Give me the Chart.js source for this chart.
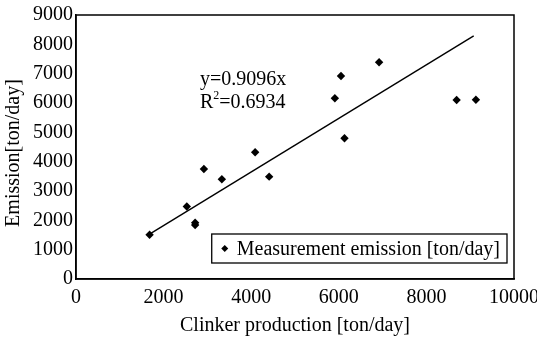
<!DOCTYPE html>
<html>
<head>
<meta charset="utf-8">
<script src="https://cdn.jsdelivr.net/npm/chart.js@4"></script>
<style>
html, body { margin: 0; padding: 0; background: #fff; }
#wrap { width: 537px; height: 341px; }
</style>
</head>
<body>
<div id="wrap"><canvas id="emission"></canvas></div>
<script>
var clinker  = [1680, 2530, 2720, 2720, 2920, 3330, 4090, 4410, 5910, 6050, 6130, 6920, 8690, 9130];
var emission = [1510, 2470, 1920, 1840, 3750, 3400, 4320, 3490, 6160, 6920, 4800, 7390, 6100, 6110];
// fitted line end points
var fitX = [1680, 9080];
var fitY = [1530, 8290];
var xTicks = [0, 2000, 4000, 6000, 8000, 10000];
var yTicks = [0, 1000, 2000, 3000, 4000, 5000, 6000, 7000, 8000, 9000];
var xTitle = 'Clinker production [ton/day]';
var yTitle = 'Emission[ton/day]';

var serif = "'Liberation Serif', 'DejaVu Serif', serif";

var pts = clinker.map(function (x, i) { return {x: x, y: emission[i]}; });
var fit = fitX.map(function (x, i) { return {x: x, y: fitY[i]}; });

var decor = {
  id: 'decor',
  afterDraw: function (chart) {
    var ctx = chart.ctx, a = chart.chartArea;
    var xs = chart.scales.x, ys = chart.scales.y;
    ctx.save();
    // frame
    ctx.strokeStyle = '#000';
    ctx.lineWidth = 1.5;
    ctx.strokeRect(a.left, a.top, a.right - a.left, a.bottom - a.top);

    // equation text
    ctx.fillStyle = '#000';
    ctx.font = '20px ' + serif;
    ctx.textAlign = 'left';
    ctx.textBaseline = 'middle';
    var ex = xs.getPixelForValue(2830);
    ctx.fillText('y=0.9096x', ex, ys.getPixelForValue(6800));
    ctx.fillText('R', ex, ys.getPixelForValue(6000));
    var rw = ctx.measureText('R').width;
    ctx.font = '12px ' + serif;
    ctx.fillText('2', ex + rw, ys.getPixelForValue(6230));
    var sw = ctx.measureText('2').width;
    ctx.font = '20px ' + serif;
    ctx.fillText('=0.6934', ex + rw + sw, ys.getPixelForValue(6000));

    // legend box inside the plot
    var label = chart.data.datasets[0].label;
    var tw = ctx.measureText(label).width;
    var bw = tw + 32, bh = 29;
    var bx = a.right - 7 - bw, by = a.bottom - 16 - bh;
    ctx.lineWidth = 1.3;
    ctx.strokeRect(bx, by, bw, bh);
    var cx = bx + 13, cy = by + bh / 2;
    ctx.beginPath();
    ctx.moveTo(cx, cy - 3.5); ctx.lineTo(cx + 3.5, cy);
    ctx.lineTo(cx, cy + 3.5); ctx.lineTo(cx - 3.5, cy);
    ctx.closePath(); ctx.fill();
    ctx.fillText(label, bx + 25, cy + 1);

    // axis titles
    ctx.textAlign = 'center';
    ctx.fillText(xTitle, (a.left + a.right) / 2, 326);
    ctx.translate(14, (a.top + a.bottom) / 2 + 6);
    ctx.rotate(-Math.PI / 2);
    ctx.fillText(yTitle, 0, 0);
    ctx.restore();
  }
};

function plain(v) { return String(v); }

var chart = new Chart(document.getElementById('emission'), {
  type: 'scatter',
  data: {
    datasets: [
      {
        label: 'Measurement emission [ton/day]',
        data: pts,
        pointStyle: 'rectRot',
        pointRadius: 4.2,
        backgroundColor: '#000',
        borderColor: '#000',
        borderWidth: 0
      },
      {
        label: 'fit',
        type: 'line',
        data: fit,
        borderColor: '#000',
        borderWidth: 1.4,
        pointRadius: 0,
        fill: false
      }
    ]
  },
  options: {
    responsive: true,
    maintainAspectRatio: false,
    animation: false,
    layout: { padding: { top: 15, right: 23, left: 0, bottom: 0 } },
    plugins: { legend: { display: false }, tooltip: { enabled: false } },
    scales: {
      x: {
        type: 'linear', min: 0, max: 10000,
        afterBuildTicks: function (s) { s.ticks = xTicks.map(function (v) { return {value: v}; }); },
        afterFit: function (s) { s.height = 62; s.paddingLeft = 0; s.paddingRight = 0; },
        grid: { display: false, drawTicks: true, tickLength: -5, tickColor: '#000', tickWidth: 1.3 },
        border: { display: true, color: '#000', width: 1.5 },
        ticks: { color: '#000', font: { family: serif, size: 20 }, padding: 12, maxRotation: 0, callback: plain }
      },
      y: {
        type: 'linear', min: 0, max: 9000,
        afterBuildTicks: function (s) { s.ticks = yTicks.map(function (v) { return {value: v}; }); },
        afterFit: function (s) { s.width = 76; s.paddingTop = 0; s.paddingBottom = 0; },
        grid: { display: false, drawTicks: true, tickLength: -5, tickColor: '#000', tickWidth: 1.3 },
        border: { display: true, color: '#000', width: 1.5 },
        ticks: { color: '#000', font: { family: serif, size: 20 }, padding: 8, callback: plain }
      }
    }
  },
  plugins: [decor]
});
</script>
</body>
</html>
